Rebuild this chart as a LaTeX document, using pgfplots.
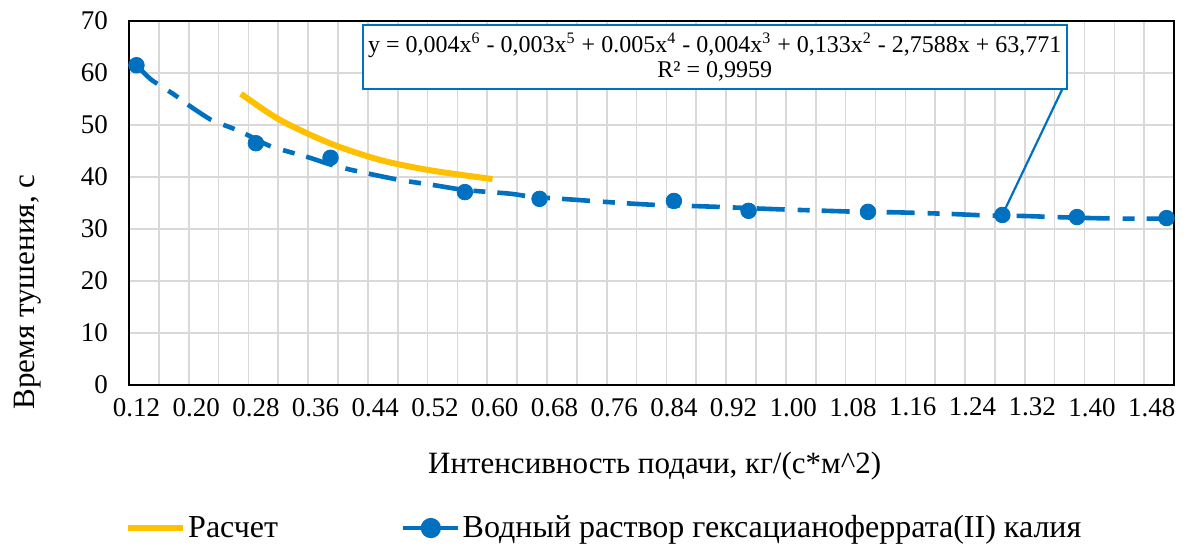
\documentclass[border=0pt]{standalone}
\usepackage{pgfplots}
\pgfplotsset{compat=1.18}
\usepackage{fontspec}
\setmainfont{Liberation Serif}
\definecolor{exblue}{HTML}{0070C0}
\definecolor{exgold}{HTML}{FFC000}
\definecolor{exgrid}{HTML}{D9D9D9}

% measured quenching time vs. feed intensity
\pgfplotstableread{
x     y
0.12  61.5
0.28  46.5
0.38  43.7
0.56  37.1
0.66  35.8
0.84  35.4
0.94  33.5
1.10  33.3
1.28  32.7
1.38  32.3
1.50  32.1
}\measured

% polynomial trendline of the measured series
\pgfplotstableread{
x     y
0.12  61.5
0.14  58.7
0.17  55.9
0.19  53.8
0.22  51.0
0.25  49.3
0.27  48.0
0.30  45.9
0.35  43.8
0.38  42.4
0.41  41.3
0.47  39.5
0.52  38.4
0.56  37.5
0.62  36.8
0.65  36.2
0.70  35.7
0.77  35.0
0.82  34.6
0.87  34.4
0.91  34.2
0.96  33.9
1.00  33.7
1.09  33.3
1.14  33.2
1.21  32.9
1.26  32.6
1.31  32.5
1.35  32.3
1.40  32.1
1.44  32.0
1.50  32.0
}\trend

% calculated curve
\pgfplotstableread{
x      y
0.260  56.0
0.312  51.0
0.379  46.5
0.446  43.3
0.513  41.3
0.597  39.6
}\calc

\begin{document}
\begin{tikzpicture}
\begin{axis}[
  scale only axis,
  width=522.5pt, height=182pt,
  xmin=0.11, xmax=1.51, ymin=0, ymax=70,
  xtick={0.12,0.20,0.28,0.36,0.44,0.52,0.60,0.68,0.76,0.84,0.92,1.00,1.08,1.16,1.24,1.32,1.40,1.48},
  minor xtick={0.15,0.19,0.23,0.27,0.31,0.35,0.39,0.43,0.47,0.51,0.55,0.59,0.63,0.67,0.71,0.75,0.79,0.83,0.87,0.91,0.95,0.99,1.03,1.07,1.11,1.15,1.19,1.23,1.27,1.31,1.35,1.39,1.43,1.47},
  ytick={0,10,...,70},
  xminorgrids=true, xmajorgrids=false, ymajorgrids=true,
  grid style={exgrid, line width=0.8pt},
  minor grid style={exgrid, line width=0.8pt},
  major tick length=0pt, minor tick length=0pt,
  axis line style={black, line width=1.1pt},
  /pgf/number format/assume math mode=true,
  xticklabel style={/pgf/number format/fixed, /pgf/number format/fixed zerofill,
    /pgf/number format/precision=2, yshift=-3pt},
  yticklabel style={xshift=-7pt},
  tick label style={font=\rmfamily\fontsize{13.5}{15}\selectfont},
  xlabel={Интенсивность подачи, кг/(с*м\textasciicircum 2)},
  ylabel={Время тушения, с},
  label style={font=\rmfamily\fontsize{15.5}{17}\selectfont},
  xlabel style={at={(axis description cs:0.503,-0.2225)}, anchor=center},
  ylabel style={at={(axis description cs:-0.0967,0.2555)}, anchor=center},
  legend columns=2,
  legend style={at={(axis description cs:-0.004,-0.393)}, anchor=west,
    draw=none, fill=none, inner sep=0pt,
    font=\rmfamily\fontsize{16}{18}\selectfont,
    nodes={inner xsep=1pt},
    /tikz/every even column/.append style={column sep=60.5pt}},
  legend image code/.code={\draw[mark repeat=2, mark phase=2, #1]
    plot coordinates {(0pt,0pt) (13.75pt,0pt) (27.5pt,0pt)};},
]
\coordinate (bl) at (rel axis cs:0,0);

% trendline
\addplot[exblue, line width=2.3pt, smooth, tension=0.4,
  dash pattern=on 14pt off 6.5pt on 6pt off 6pt, forget plot]
  table[x=x, y=y] {\trend};
% measured points
\addplot[only marks, mark=*, mark size=3.9pt, exblue,
  mark options={fill=exblue, draw=exblue}, forget plot]
  table[x=x, y=y] {\measured};

% calculated curve
\addplot[exgold, line width=3pt, smooth, forget plot]
  table[x=x, y=y] {\calc};

\addlegendimage{exgold, line width=3pt}
\addlegendentry{Расчет}
\addlegendimage{exblue, line width=2.3pt, mark=*, mark size=3.9pt, mark options={solid, fill=exblue}}
\addlegendentry{Водный раствор гексацианоферрата(II) калия}

% trendline equation label with leader
\draw[exblue, line width=1.1pt] (axis cs:1.362,57.4) -- (axis cs:1.28,32.7);
\node[draw=exblue, line width=1.1pt, fill=white, anchor=north west,
  minimum width=352pt, minimum height=32pt, inner sep=0pt, align=center,
  font=\rmfamily\fontsize{12}{12.5}\selectfont]
  at (axis cs:0.4217,69.4)
  {y = 0,004x\textsuperscript{6} - 0,003x\textsuperscript{5} + 0.005x\textsuperscript{4} - 0,004x\textsuperscript{3} + 0,133x\textsuperscript{2} - 2,7588x + 63,771\\R² = 0,9959};
\end{axis}
\pgfresetboundingbox
\path (bl) ++(-64.5pt,-81.5pt) rectangle ++(593pt,274pt);
\end{tikzpicture}
\end{document}
